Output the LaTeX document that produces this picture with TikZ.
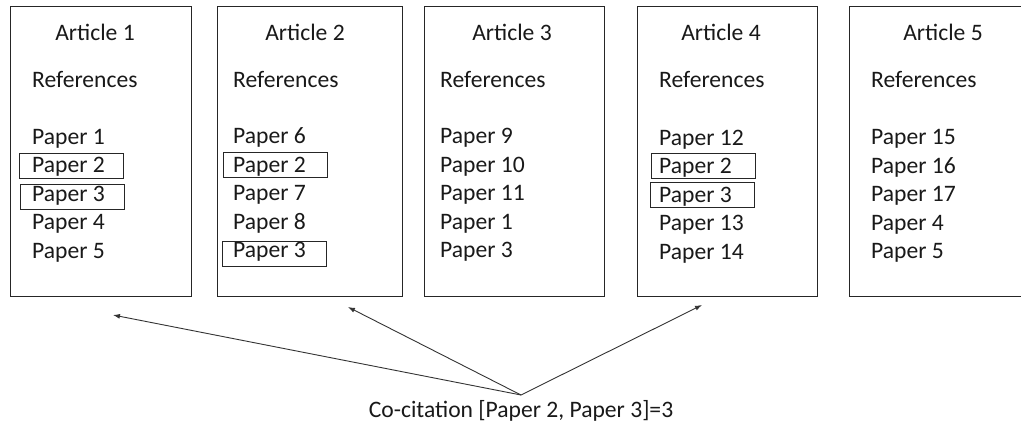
\documentclass[tikz,border=0pt]{standalone}
\usepackage{fontspec}
\setmainfont{Carlito}
\usetikzlibrary{arrows.meta}
\begin{document}
\begin{tikzpicture}[x=1pt,y=-1pt,
  article/.style={draw=black!85, line width=1pt, inner sep=0, anchor=north west,
    minimum height=290pt},
  txt/.style={inner sep=0, anchor=base west, font=\fontsize{23.6}{28}\selectfont, text=black!90},
  ttl/.style={txt, anchor=base},
  hl/.style={draw=black!85, line width=0.9pt, inner sep=0,
    minimum width=104pt, minimum height=25pt},
  cite/.style={draw=black!80, line width=0.9pt, -{Latex[length=7pt,width=5pt]}}
]
\useasboundingbox (0,0) rectangle (1021,424);
\clip (0,0) rectangle (1021,424);

% article frames
\node[article, minimum width=181pt] (art1) at (10,6) {};
\node[article, minimum width=185pt] (art2) at (217,6) {};
\node[article, minimum width=180pt] (art3) at (424,6) {};
\node[article, minimum width=180pt] (art4) at (637,6) {};
\node[article, minimum width=200pt] (art5) at (849,6) {};

% titles
\node[ttl] (t1) at (95,40) {Article 1};
\node[ttl] (t2) at (305,40) {Article 2};
\node[ttl] (t3) at (512,40) {Article 3};
\node[ttl] (t4) at (721,40) {Article 4};
\node[ttl] (t5) at (943,40) {Article 5};

% reference headings
\node[txt] (r1) at (32,87) {References};
\node[txt] (r2) at (233,87) {References};
\node[txt] (r3) at (440,87) {References};
\node[txt] (r4) at (659,87) {References};
\node[txt] (r5) at (871,87) {References};

% reference lists
\foreach \lbl [count=\i] in {Paper 1,Paper 2,Paper 3,Paper 4,Paper 5}
  \node[txt] (a1p\i) at (32,115.5+28.5*\i) {\lbl};
\foreach \lbl [count=\i] in {Paper 6,Paper 2,Paper 7,Paper 8,Paper 3}
  \node[txt] (a2p\i) at (233,115+28.5*\i) {\lbl};
\foreach \lbl [count=\i] in {Paper 9,Paper 10,Paper 11,Paper 1,Paper 3}
  \node[txt] (a3p\i) at (440,115+28.5*\i) {\lbl};
\foreach \lbl [count=\i] in {Paper 12,Paper 2,Paper 3,Paper 13,Paper 14}
  \node[txt] (a4p\i) at (659,116.5+28.5*\i) {\lbl};
\foreach \lbl [count=\i] in {Paper 15,Paper 16,Paper 17,Paper 4,Paper 5}
  \node[txt] (a5p\i) at (871,116+28.5*\i) {\lbl};

% boxes around the co-cited pair
\node[hl] (a1h2) at (71,165.5) {};
\node[hl] (a1h3) at (72,196.5) {};
\node[hl] (a2h2) at (275,164.5) {};
\node[hl] (a2h3) at (274,253.5) {};
\node[hl] (a4h2) at (703,165.5) {};
\node[hl] (a4h3) at (702.5,194.5) {};

% co-citation count and its arrows
\node[ttl] (cocite) at (521,417) {Co-citation [Paper 2, Paper 3]=3};
\coordinate (apex) at (521,395);
\coordinate (tip1) at (113,315);
\coordinate (tip2) at (348,307);
\coordinate (tip4) at (702,305);
\draw[cite] (apex) -- (tip1);
\draw[cite] (apex) -- (tip2);
\draw[cite] (apex) -- (tip4);
\end{tikzpicture}
\end{document}
